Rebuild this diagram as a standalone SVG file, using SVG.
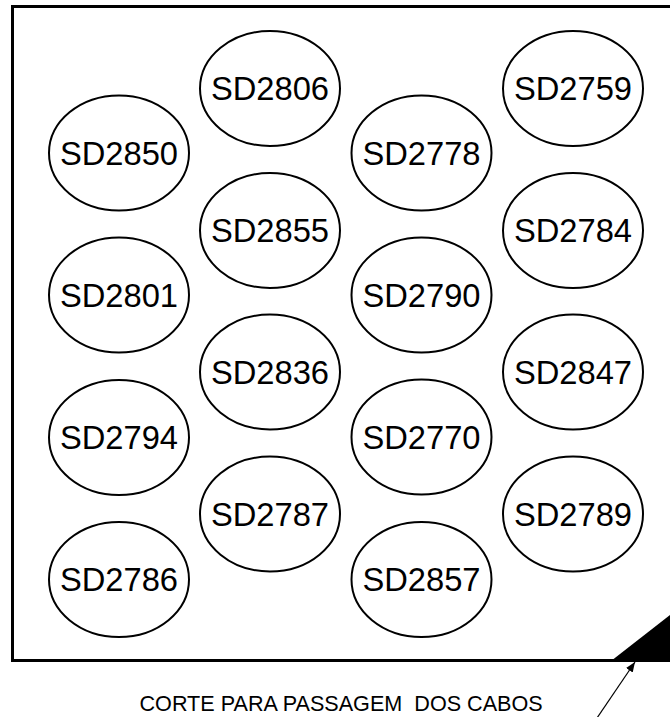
<svg xmlns="http://www.w3.org/2000/svg" width="670" height="717" viewBox="0 0 670 717">
<style>
.n ellipse{fill:#fff;stroke:#000;stroke-width:2}
.n text{font-family:"Liberation Sans",Arial,sans-serif;font-size:32.7px;text-anchor:middle;fill:#000}
.cap{font-family:"Liberation Sans",Arial,sans-serif;font-size:21.6px;fill:#000;white-space:pre}
</style>
<defs>
<marker id="ah" viewBox="0 0 10 10" refX="10" refY="5" markerWidth="10" markerHeight="10" markerUnits="userSpaceOnUse" orient="auto">
<path d="M0,1 L10,5 L0,9 Z" fill="#000"/>
</marker>
</defs>
<rect width="670" height="717" fill="#fff"/>
<g id="frame">
<path d="M680,6.5 H12.5 V660.5 H680" fill="none" stroke="#000" stroke-width="3"/>
<polygon points="611,661 670,615 670,661" fill="#000"/>
</g>
<g id="n-SD2850" class="n"><ellipse cx="119" cy="153" rx="70" ry="57.5"/><text x="119" y="164.5">SD2850</text></g>
<g id="n-SD2801" class="n"><ellipse cx="119" cy="295" rx="70" ry="57.5"/><text x="119" y="306.5">SD2801</text></g>
<g id="n-SD2794" class="n"><ellipse cx="119" cy="437.5" rx="70" ry="57.5"/><text x="119" y="449">SD2794</text></g>
<g id="n-SD2786" class="n"><ellipse cx="119" cy="579.5" rx="70" ry="57.5"/><text x="119" y="591">SD2786</text></g>
<g id="n-SD2806" class="n"><ellipse cx="270" cy="88.5" rx="70" ry="57.5"/><text x="270" y="100">SD2806</text></g>
<g id="n-SD2855" class="n"><ellipse cx="270" cy="230.5" rx="70" ry="57.5"/><text x="270" y="242">SD2855</text></g>
<g id="n-SD2836" class="n"><ellipse cx="270" cy="372" rx="70" ry="57.5"/><text x="270" y="383.5">SD2836</text></g>
<g id="n-SD2787" class="n"><ellipse cx="270" cy="514" rx="70" ry="57.5"/><text x="270" y="525.5">SD2787</text></g>
<g id="n-SD2778" class="n"><ellipse cx="421.5" cy="153" rx="70" ry="57.5"/><text x="421.5" y="164.5">SD2778</text></g>
<g id="n-SD2790" class="n"><ellipse cx="421.5" cy="295" rx="70" ry="57.5"/><text x="421.5" y="306.5">SD2790</text></g>
<g id="n-SD2770" class="n"><ellipse cx="421.5" cy="437" rx="70" ry="57.5"/><text x="421.5" y="448.5">SD2770</text></g>
<g id="n-SD2857" class="n"><ellipse cx="421.5" cy="579.5" rx="70" ry="57.5"/><text x="421.5" y="591">SD2857</text></g>
<g id="n-SD2759" class="n"><ellipse cx="573" cy="88.5" rx="70" ry="57.5"/><text x="573" y="100">SD2759</text></g>
<g id="n-SD2784" class="n"><ellipse cx="573" cy="230.5" rx="70" ry="57.5"/><text x="573" y="242">SD2784</text></g>
<g id="n-SD2847" class="n"><ellipse cx="573" cy="372" rx="70" ry="57.5"/><text x="573" y="383.5">SD2847</text></g>
<g id="n-SD2789" class="n"><ellipse cx="573" cy="514" rx="70" ry="57.5"/><text x="573" y="525.5">SD2789</text></g>
<g id="connectors">
<line x1="597" y1="718" x2="635" y2="662" stroke="#000" stroke-width="1.2" marker-end="url(#ah)"/>
</g>
<text class="cap" x="139.5" y="710.5" xml:space="preserve">CORTE PARA PASSAGEM  DOS CABOS</text>
</svg>
